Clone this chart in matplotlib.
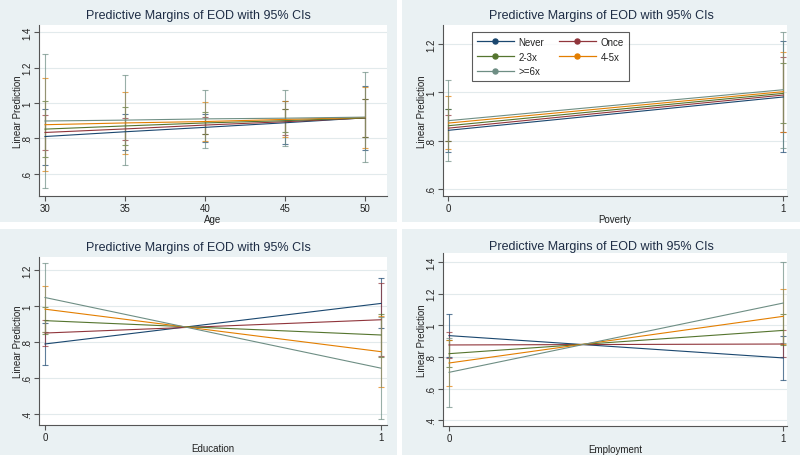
import matplotlib
matplotlib.use('Agg')
import matplotlib.pyplot as plt
from matplotlib.patches import Rectangle
from matplotlib.lines import Line2D

plt.rcParams['font.family'] = ['Liberation Sans', 'DejaVu Sans']

groups = ['Never', 'Once', '2-3x', '4-5x', '>=6x']
colors = ['#1a476f', '#90353b', '#55752f', '#e37e00', '#6e8e84']

# Age panel: one row per group (Never, Once, 2-3x, 4-5x, >=6x)
age = [30, 35, 40, 45, 50]
age_est = [[0.810, 0.837, 0.862, 0.888, 0.916],
           [0.833, 0.853, 0.875, 0.894, 0.915],
           [0.852, 0.870, 0.887, 0.900, 0.915],
           [0.877, 0.887, 0.895, 0.907, 0.918],
           [0.898, 0.903, 0.910, 0.914, 0.920]]
age_lo = [[0.651, 0.732, 0.779, 0.767, 0.732],
          [0.732, 0.788, 0.822, 0.820, 0.810],
          [0.694, 0.764, 0.822, 0.833, 0.807],
          [0.613, 0.710, 0.783, 0.805, 0.747],
          [0.520, 0.647, 0.747, 0.754, 0.666]]
age_hi = [[0.968, 0.938, 0.938, 1.009, 1.096],
          [0.932, 0.917, 0.923, 0.968, 1.020],
          [1.009, 0.976, 0.949, 0.968, 1.022],
          [1.140, 1.064, 1.008, 1.009, 1.088],
          [1.276, 1.159, 1.073, 1.075, 1.173]]

binary = [0, 1]

pov_est = [[0.843, 0.981], [0.852, 0.989], [0.862, 0.996], [0.873, 1.003], [0.883, 1.011]]
pov_lo = [[0.755, 0.752], [0.800, 0.837], [0.797, 0.872], [0.764, 0.837], [0.714, 0.770]]
pov_hi = [[0.930, 1.214], [0.905, 1.145], [0.930, 1.120], [0.986, 1.166], [1.052, 1.252]]

edu_est = [[0.789, 1.015], [0.850, 0.924], [0.919, 0.839], [0.983, 0.746], [1.048, 0.654]]
edu_lo = [[0.672, 0.878], [0.778, 0.720], [0.844, 0.719], [0.853, 0.548], [0.853, 0.372]]
edu_hi = [[0.906, 1.156], [0.922, 1.130], [0.994, 0.956], [1.113, 0.944], [1.243, 0.941]]

emp_est = [[0.935, 0.794], [0.876, 0.882], [0.821, 0.968], [0.762, 1.057], [0.703, 1.141]]
emp_lo = [[0.800, 0.657], [0.794, 0.800], [0.737, 0.874], [0.615, 0.882], [0.484, 0.888]]
emp_hi = [[1.069, 0.933], [0.958, 0.968], [0.905, 1.069], [0.909, 1.232], [0.922, 1.400]]

W, H = 800, 456
fig = plt.figure(figsize=(8, 4.56), dpi=100, facecolor='white')

bg = '#eaf1f3'
title_col = '#1e2d45'
text_col = '#222222'


def px_axes(left, top, right, bottom):
    return fig.add_axes([left / W, 1 - bottom / H, (right - left) / W, (bottom - top) / H])


def draw_panel(box, ax_box, x, est, lo, hi, xlim, ylim, yticks, ylabels, xlabel, title_y):
    l, t, r, b = box
    fig.patches.append(Rectangle((l / W, 1 - b / H), (r - l) / W, (b - t) / H,
                                 transform=fig.transFigure, facecolor=bg,
                                 edgecolor='none', zorder=-10))
    fig.text((l + r) / 2 / W, 1 - title_y / H, 'Predictive Margins of EOD with 95% CIs',
             ha='center', va='center', fontsize=9, color=title_col)
    ax = px_axes(*ax_box)
    ax.set_facecolor('white')
    for i in range(len(groups)):
        ax.errorbar(x, est[i], yerr=[[e - a for e, a in zip(est[i], lo[i])],
                                     [c - e for e, c in zip(est[i], hi[i])]],
                    fmt='none', ecolor=colors[i], elinewidth=0.8, capsize=2.2,
                    capthick=0.8, alpha=0.7, zorder=2)
    for i in range(len(groups)):
        ax.plot(x, est[i], color=colors[i], lw=0.8, zorder=3)
    ax.set_xlim(*xlim)
    ax.set_ylim(*ylim)
    ax.set_xticks(x)
    ax.set_yticks(yticks)
    ax.set_yticklabels(ylabels, rotation=90, va='center')
    ax.grid(axis='y', color='#e2eaec', lw=0.8)
    ax.set_axisbelow(True)
    for s in ['top', 'right']:
        ax.spines[s].set_visible(False)
    for s in ['left', 'bottom']:
        ax.spines[s].set_color('#555555')
        ax.spines[s].set_linewidth(0.8)
    ax.tick_params(length=3.5, width=0.8, color='#555555', labelsize=7,
                   labelcolor=text_col, pad=1.5)
    ax.set_xlabel(xlabel, fontsize=7, color=text_col, labelpad=1)
    ax.set_ylabel('Linear Prediction', fontsize=7, color=text_col, labelpad=-1)
    return ax


draw_panel((0, 0, 397, 223), (39, 26, 387, 197), age, age_est, age_lo, age_hi,
           (29.625, 51.375), (0.473, 1.442), [0.6, 0.8, 1.0, 1.2, 1.4],
           ['.6', '.8', '1', '1.2', '1.4'], 'Age', 16)
ax2 = draw_panel((402, 0, 800, 223), (443, 26, 787, 197), binary, pov_est, pov_lo, pov_hi,
                 (-0.0164, 1.011), (0.571, 1.279), [0.6, 0.8, 1.0, 1.2],
                 ['.6', '.8', '1', '1.2'], 'Poverty', 16)
draw_panel((0, 230, 397, 456), (39, 258, 387, 426), binary, edu_est, edu_lo, edu_hi,
           (-0.0179, 1.018), (0.337, 1.274), [0.4, 0.6, 0.8, 1.0, 1.2],
           ['.4', '.6', '.8', '1', '1.2'], 'Education', 248)
draw_panel((402, 230, 800, 456), (443, 254, 787, 427), binary, emp_est, emp_lo, emp_hi,
           (-0.018, 1.011), (0.364, 1.457), [0.4, 0.6, 0.8, 1.0, 1.2, 1.4],
           ['.4', '.6', '.8', '1', '1.2', '1.4'], 'Employment', 247)

# legend filled column-wise, so reorder to read row-wise
order = [0, 2, 4, 1, 3]
handles = [Line2D([], [], color=colors[i], lw=0.9, marker='o', markersize=3.6) for i in order]
leg = ax2.legend(handles, [groups[i] for i in order], ncol=2, loc='upper left',
                 bbox_to_anchor=(0.084, 0.96), fontsize=7, frameon=True, fancybox=False,
                 handlelength=3.8, handletextpad=0.5, columnspacing=1.5,
                 labelspacing=0.5, borderpad=0.5, borderaxespad=0)
leg.get_frame().set_edgecolor('#333333')
leg.get_frame().set_linewidth(0.8)
for t in leg.get_texts():
    t.set_color(text_col)

fig.savefig('out.png', dpi=100, facecolor='white')
